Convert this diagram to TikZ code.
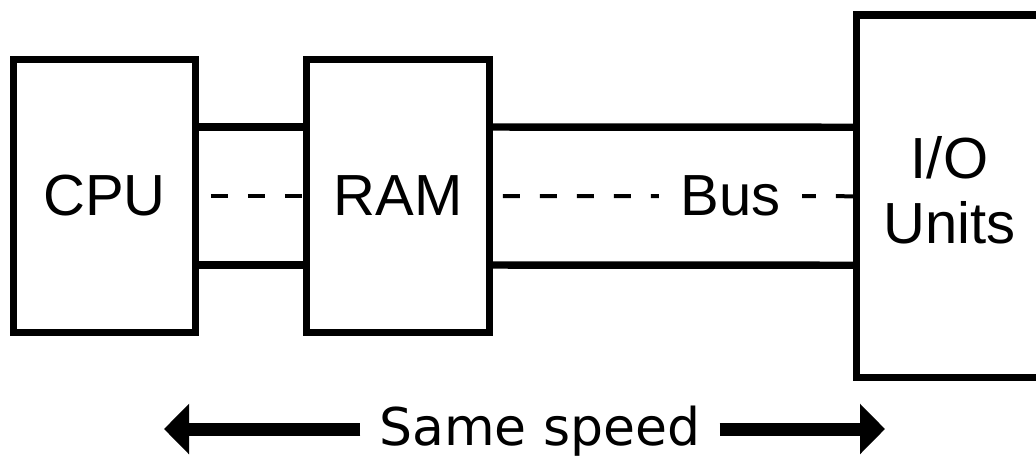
\documentclass[tikz,border=0pt]{standalone}
\usepackage{fontspec}
\setmainfont{Liberation Sans}
\newfontfamily\speedfont{DejaVu Sans}
\usetikzlibrary{arrows.meta, calc}
\definecolor{inkline}{HTML}{000000}
\newcommand{\unitbox}[6][]{%
  \node[draw=inkline, line width=5.6pt, minimum width=#4, minimum height=#5,
        align=center, inner sep=0pt, #1] (#2) at (#3) {#6};}

\begin{document}
\begin{tikzpicture}[x=0.75pt, y=-0.75pt, font=\fontsize{43.5pt}{48.75pt}\selectfont]
  \useasboundingbox (0,0) rectangle (1036,458);
  \unitbox{cpu}{104.5,196}{136.5pt}{204.75pt}{CPU}
  \unitbox{ram}{398,196}{137.25pt}{204.75pt}{RAM}
  \unitbox[text depth=9pt]{io}{949.5,196.25}{139.5pt}{271.9pt}{I/O\\Units}
  % bus wires
  \draw[inkline, line width=5.6pt] ([yshift=51.75pt]cpu.east) -- ([yshift=51.75pt]ram.west);
  \draw[inkline, line width=5.6pt] ([yshift=-51.75pt]cpu.east) -- ([yshift=-51.75pt]ram.west);
  \draw[inkline, line width=5.6pt] ([yshift=51.75pt]ram.east) -- ([yshift=51.75pt]io.west);
  \draw[inkline, line width=5.6pt] ([yshift=-51.75pt]ram.east) -- ([yshift=-51.75pt]io.west);
  \draw[inkline, line width=3pt, dash pattern=on 12.75pt off 15pt, dash phase=19.1pt]
    (cpu.east) -- (ram.west);
  \draw[inkline, line width=3pt, dash pattern=on 12.75pt off 15pt]
    (io.west) -- node[pos=0.34, fill=white, inner xsep=16pt] (bus) {Bus} (ram.east);
  % speed arrow
  \node[font=\speedfont\fontsize{39pt}{46pt}\selectfont, text height=28.5pt,
        text depth=4.5pt, inner xsep=14pt] (speed) at (540,429) {Same speed};
  \coordinate (leftend) at (164,429);
  \coordinate (rightend) at (885,429);
  \draw[-{Triangle[length=18.75pt, width=36.75pt]}, inkline, line width=9.75pt] (speed.west) -- (leftend);
  \draw[-{Triangle[length=18.75pt, width=36.75pt]}, inkline, line width=9.75pt] (speed.east) -- (rightend);
\end{tikzpicture}
\end{document}
